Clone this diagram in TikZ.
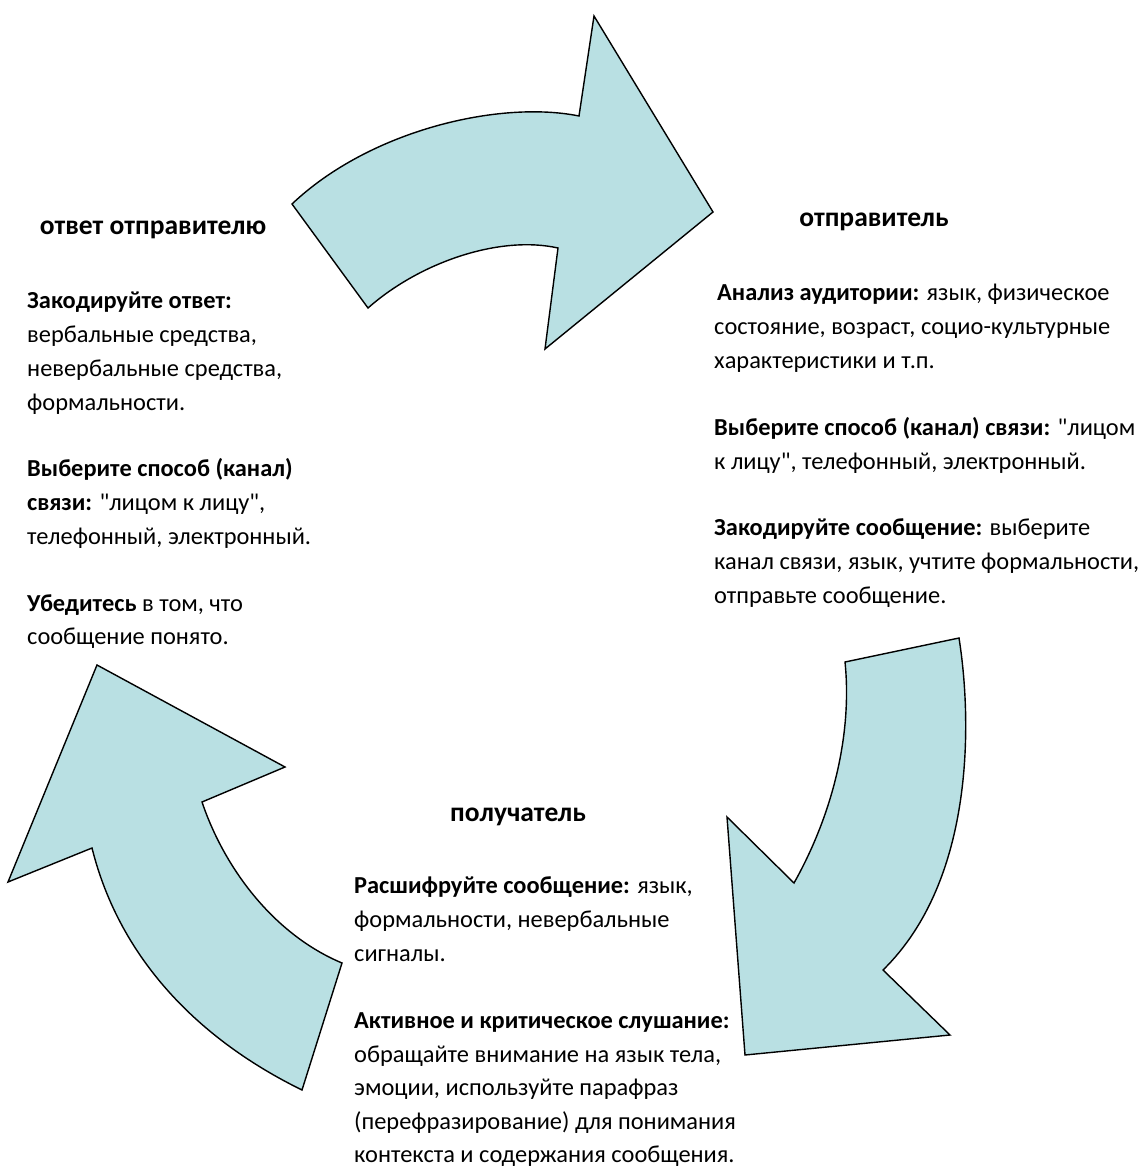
\documentclass[tikz,border=0pt]{standalone}
\usepackage{fontspec}
\setmainfont{Carlito}[Ligatures=TeXOff]
\definecolor{arrowfill}{RGB}{185,224,227}
\begin{document}
\begin{tikzpicture}[x=1pt,y=-1pt,
  shape arrow/.style={fill=arrowfill,draw=black,line width=1.4pt,line join=miter},
  body/.style={anchor=base west,inner sep=0pt,font=\fontsize{24.4}{34}\selectfont},
  title/.style={anchor=base,inner sep=0pt,font=\fontsize{27.5}{32}\selectfont\bfseries}]
\useasboundingbox (0,0) rectangle (1140,1167);
% arrows
\draw[shape arrow] (292,204) -- (368,308) .. controls (420,262) and (500,235) .. (558,248)
  -- (545,349) -- (713,212) -- (594,16) -- (579,116)
  .. controls (500,100) and (370,130) .. (292,204) -- cycle;
\draw[shape arrow] (845,662) -- (959,638) .. controls (972,720) and (975,880) .. (883,970)
  -- (950,1035) -- (745,1055) -- (727,817) -- (794,883)
  .. controls (835,810) and (852,730) .. (845,662) -- cycle;
\draw[shape arrow] (97,665) -- (285,767) -- (202,802) .. controls (225,870) and (275,935) .. (342,963)
  -- (302,1090) .. controls (200,1040) and (120,960) .. (92,848) -- (8,882) -- cycle;
% titles
\node[title] (t1) at (153,234) {ответ отправителю};
\node[title] (t2) at (874,226) {отправитель};
\node[title] (t3) at (518,821) {получатель};
% left block
\node[body] (l1) at (27,308) {\textbf{Закодируйте ответ:}};
\node[body] (l2) at (27,342) {вербальные средства,};
\node[body] (l3) at (27,376) {невербальные средства,};
\node[body] (l4) at (27,410) {формальности.};
\node[body] (l5) at (27,476) {\textbf{Выберите способ (канал)}};
\node[body] (l6) at (27,510) {\textbf{связи:} "лицом к лицу",};
\node[body] (l7) at (27,544) {телефонный, электронный.};
\node[body] (l8) at (27,611) {\textbf{Убедитесь} в том, что};
\node[body] (l9) at (27,644) {сообщение понято.};
% right block
\node[body] (r1) at (717,300) {\textbf{Анализ аудитории:} язык, физическое};
\node[body] (r2) at (714,334) {состояние, возраст, социо-культурные};
\node[body] (r3) at (714,368) {характеристики и т.п.};
\node[body] (r4) at (714,435) {\textbf{Выберите способ (канал) связи:} "лицом};
\node[body] (r5) at (714,469) {к лицу", телефонный, электронный.};
\node[body] (r6) at (714,535) {\textbf{Закодируйте сообщение:} выберите};
\node[body] (r7) at (714,569) {канал связи, язык, учтите формальности,};
\node[body] (r8) at (714,603) {отправьте сообщение.};
% bottom block
\node[body] (b1) at (354,893) {\textbf{Расшифруйте сообщение:} язык,};
\node[body] (b2) at (354,927) {формальности, невербальные};
\node[body] (b3) at (354,961) {сигналы.};
\node[body] (b4) at (354,1028) {\textbf{Активное и критическое слушание:}};
\node[body] (b5) at (354,1062) {обращайте внимание на язык тела,};
\node[body] (b6) at (354,1095) {эмоции, используйте парафраз};
\node[body] (b7) at (354,1129) {(перефразирование) для понимания};
\node[body] (b8) at (354,1162) {контекста и содержания сообщения.};
\end{tikzpicture}
\end{document}
